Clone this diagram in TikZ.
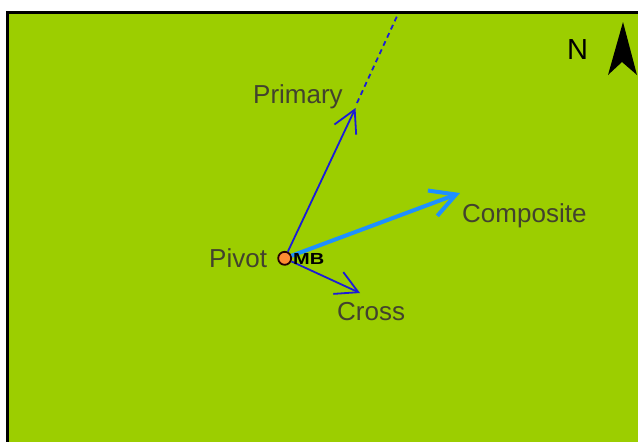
\documentclass[tikz,border=0pt]{standalone}
\usepackage{fontspec}
\setmainfont{Liberation Sans}
\usetikzlibrary{arrows.meta}
\definecolor{bggreen}{RGB}{156,206,0}
\definecolor{labelgray}{RGB}{66,66,46}
\definecolor{vecblue}{RGB}{28,28,215}
\definecolor{compblue}{RGB}{30,144,255}
\definecolor{pivotorange}{RGB}{255,140,50}
\tikzset{
  lbl/.style={inner sep=0pt, anchor=base west, text=labelgray, font=\fontsize{26}{26}\selectfont},
  vec/.style={draw=vecblue, line width=1.8pt, -{Straight Barb[length=22pt,width=24pt,line width=1.8pt]}},
  compvec/.style={draw=compblue, line width=4pt, -{Straight Barb[length=25pt,width=27pt,line width=4pt]}},
  pivotdot/.style={circle, fill=pivotorange, draw=black!85!red, line width=1.8pt, minimum size=13pt, inner sep=0pt},
}
\begin{document}
\begin{tikzpicture}[x=1pt,y=-1pt]
\useasboundingbox (0,0) rectangle (638,442);
\fill[white] (0,0) rectangle (638,442);
\fill[bggreen] (8,13) rectangle (638,442);
\draw[black, line width=3pt] (7.5,442) -- (7.5,12.5) -- (638,12.5);

% north arrow
\node[inner sep=0pt, anchor=base west, font=\fontsize{29}{29}\selectfont] (north) at (567,59) {N};
\fill[black] (623,22) -- (608,75) -- (622,62) -- (637,75) -- cycle;

% points
\node[pivotdot] (pivot) at (284.7,258.3) {};
\coordinate (ptip) at (355.5,108);
\coordinate (pdash) at (357,103);
\coordinate (ptop) at (398,14);
\coordinate (ctip) at (460,193);
\coordinate (xtip) at (360,293);

% vectors
\draw[vec] (pivot) -- (ptip);
\draw[vecblue, line width=1.8pt, dash pattern=on 5pt off 4pt] (pdash) -- (ptop);
\draw[vec] (pivot) -- (xtip);
\draw[compvec] (pivot) -- (ctip);

% labels
\node[lbl] (primary) at (253,103) {Primary};
\node[lbl] (pivotlbl) at (209,267) {Pivot};
\node[lbl] (composite) at (462,222) {Composite};
\node[lbl] (cross) at (337,320.5) {Cross};
\node[inner sep=0pt, anchor=base west, font=\bfseries\fontsize{16}{16}\selectfont] (mb) at (293,264.5) {\scalebox{1.25}[1]{MB}};
\end{tikzpicture}
\end{document}
